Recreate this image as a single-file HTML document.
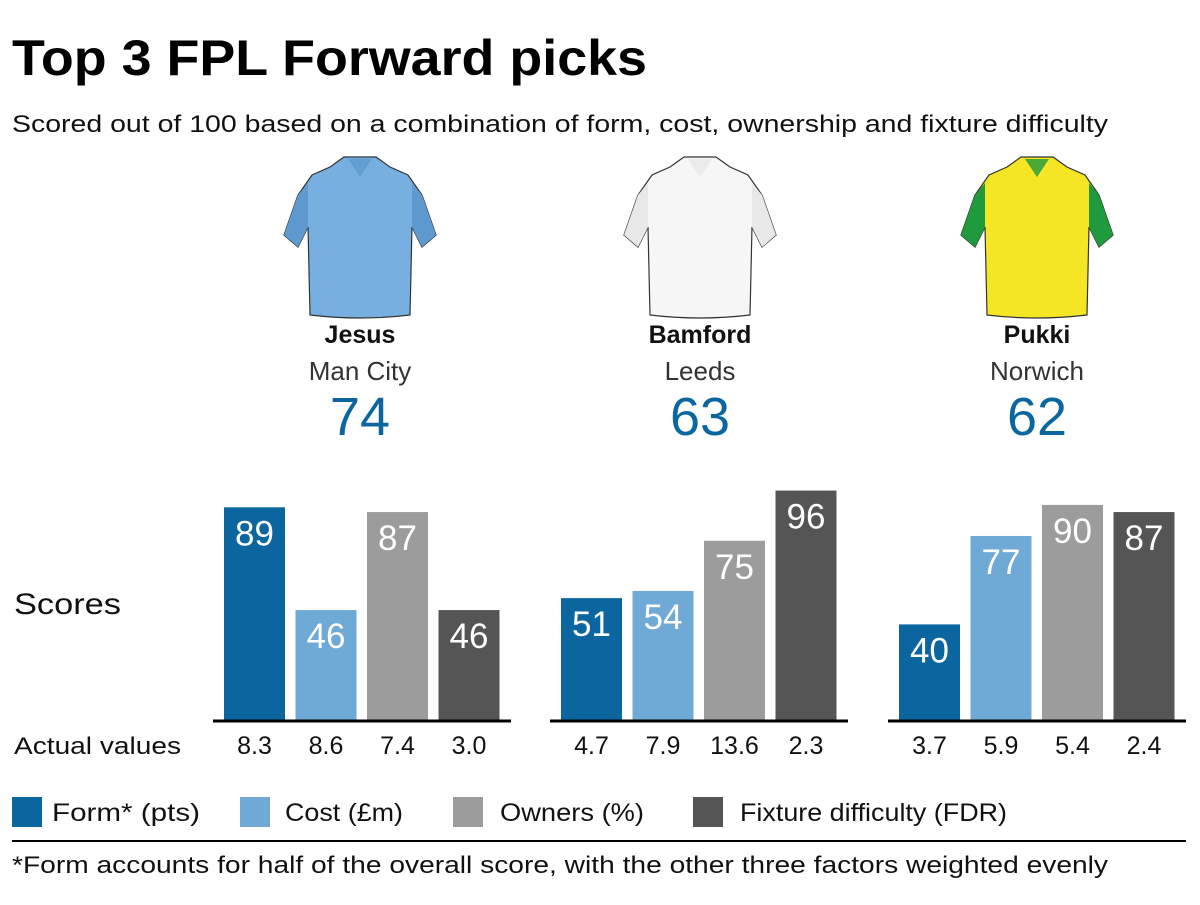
<!DOCTYPE html>
<html><head><meta charset="utf-8"><style>
body{margin:0;background:#fff;width:1200px;height:900px;overflow:hidden;font-family:"Liberation Sans",sans-serif;}
svg text{font-family:"Liberation Sans",sans-serif;}
</style></head><body>
<svg id="chart" width="1200" height="900" xmlns="http://www.w3.org/2000/svg">
<text x="12" y="75" font-size="50" font-weight="bold" fill="#000" textLength="635" lengthAdjust="spacingAndGlyphs">Top 3 FPL Forward picks</text>
<text x="12" y="132" font-size="24" fill="#111" textLength="1096" lengthAdjust="spacingAndGlyphs">Scored out of 100 based on a combination of form, cost, ownership and fixture difficulty</text>
<text x="14" y="614" font-size="30" fill="#111" textLength="107" lengthAdjust="spacingAndGlyphs">Scores</text>
<text x="14" y="754" font-size="24" fill="#111" textLength="167" lengthAdjust="spacingAndGlyphs">Actual values</text>
<g id="shirts"></g>
<g id="bars"></g>
<g id="legend"></g>
<line x1="12" y1="841" x2="1186" y2="841" stroke="#000" stroke-width="2"/>
<text x="12" y="873" font-size="24" fill="#111" textLength="1096" lengthAdjust="spacingAndGlyphs">*Form accounts for half of the overall score, with the other three factors weighted evenly</text>
</svg>
<script>
const players=["Jesus","Bamford","Pukki"];
const teams=["Man City","Leeds","Norwich"];
const totals=[74,63,62];
const formScores=[89,51,40];
const costScores=[46,54,77];
const ownerScores=[87,75,90];
const fdrScores=[46,96,87];
const formActual=["8.3","4.7","3.7"];
const costActual=["8.6","7.9","5.9"];
const ownerActual=["7.4","13.6","5.4"];
const fdrActual=["3.0","2.3","2.4"];
const seriesNames=["Form* (pts)","Cost (£m)","Owners (%)","Fixture difficulty (FDR)"];
const colors=["#0b66a0","#6fa9d6","#9c9c9c","#555555"];
const shirtMain=["#77b0e0","#f6f6f6","#f5e625"];
const shirtTrim=["#5e9ad0","#e8e8e8","#1f9a3c"];

const NS="http://www.w3.org/2000/svg";
function mk(tag,attrs,parent){const e=document.createElementNS(NS,tag);for(const k in attrs)e.setAttribute(k,attrs[k]);parent.appendChild(e);return e;}
const groupX=[213,550,888];
const groupCenters=[360,700,1037];
const baseY=720, scale=2.39;
function yOf(v){return baseY-v*scale;}
const barsG=document.getElementById('bars');
const shirtsG=document.getElementById('shirts');
const series=[formScores,costScores,ownerScores,fdrScores];
const actuals=[formActual,costActual,ownerActual,fdrActual];
players.forEach((p,i)=>{
  const cx=groupCenters[i];
  const sg=mk('g',{transform:`translate(${cx},155)`},shirtsG);
  
  
  const d="M-16,2 L16,2 L30,12 L48,20 L62,40 L76,80 L62,92 L52,72 L50,160 Q0,166 -50,160 L-52,72 L-62,92 L-76,80 L-62,40 L-48,20 L-30,12 Z";
  mk('path',{d:d,fill:shirtMain[i],stroke:"#333","stroke-width":1.2},sg);
  mk('path',{d:"M-76,80 L-62,40 L-52,28 L-52,72 L-62,92 Z",fill:shirtTrim[i]},sg);
  mk('path',{d:"M76,80 L62,40 L52,28 L52,72 L62,92 Z",fill:shirtTrim[i]},sg);
  mk('path',{d:"M-12,4 L0,22 L12,4 Z",fill:shirtTrim[i],opacity:0.8},sg);
  let t=mk('text',{x:cx,y:343,"font-size":25,"font-weight":"bold","text-anchor":"middle",fill:"#111"},barsG);t.textContent=p;
  
  
  t=mk('text',{x:cx,y:380,"font-size":26,"text-anchor":"middle",fill:"#333"},barsG);t.textContent=teams[i];
  
  
  t=mk('text',{x:cx,y:435,"font-size":54,"text-anchor":"middle",fill:"#0b66a0"},barsG);t.textContent=totals[i];
  
  
  const gx=groupX[i];
  series.forEach((s,j)=>{
    const x=gx+11+j*71.5, w=61, v=s[i], y=yOf(v);
    const r=mk('rect',{x:x,y:y,width:w,height:baseY-y,fill:colors[j]},barsG);
    
    
    const lt=mk('text',{x:x+w/2,y:y+38,"font-size":35,"text-anchor":"middle",fill:"#fff"},barsG);lt.textContent=v;
    
    
    const at=mk('text',{x:x+w/2,y:754,"font-size":25,"text-anchor":"middle",fill:"#111"},barsG);at.textContent=actuals[j][i];
    
    
  });
  const ln=mk('line',{x1:gx,y1:baseY+1,x2:gx+298,y2:baseY+1,stroke:"#000","stroke-width":3},barsG);
  
  
});
const legG=document.getElementById('legend');
const legX=[12,240,453,693];
const legTextX=[52,285,500,740];
const legW=[148,118,144,267];
seriesNames.forEach((n,j)=>{
  const r=mk('rect',{x:legX[j],y:797,width:30,height:30,fill:colors[j]},legG);
  
  
  const t=mk('text',{x:legTextX[j],y:821,"font-size":25,fill:"#111",textLength:legW[j],lengthAdjust:"spacingAndGlyphs"},legG);t.textContent=n;
  
  
});
</script>
</body></html>
